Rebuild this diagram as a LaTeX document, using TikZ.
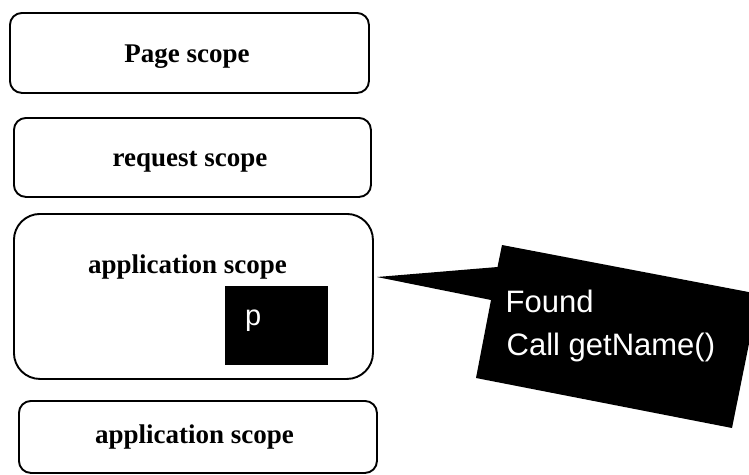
\documentclass[tikz,border=0pt]{standalone}
\usepackage{fontspec}
\setmainfont{Liberation Serif}
\setsansfont{Liberation Sans}
\begin{document}
\begin{tikzpicture}[x=1pt,y=-1pt,
  scopebox/.style={draw=black, line width=1.9pt, rounded corners=12pt, anchor=north west, inner sep=0pt},
  bigbox/.style={scopebox, rounded corners=26pt},
  lbl/.style={anchor=base, inner sep=0pt, font=\fontsize{27}{32}\selectfont\bfseries},
  objbox/.style={fill=black, draw=none, anchor=north west, inner sep=0pt},
  wtxt/.style={anchor=base west, inner sep=0pt, text=white, font=\sffamily\fontsize{31}{36}\selectfont},
  callout/.style={fill=black}]
\useasboundingbox (0,0) rectangle (749,474);
% scope boxes
\node[scopebox, minimum width=359pt, minimum height=80pt] (page) at (9,12) {};
\node[lbl] (pagetxt) at (187,62) {Page scope};
\node[scopebox, minimum width=357pt, minimum height=79pt] (request) at (13,117) {};
\node[lbl] (requesttxt) at (190,166) {request scope};
\node[bigbox, minimum width=359pt, minimum height=165pt] (app) at (13,213) {};
\node[lbl] (apptxt) at (187.5,273) {application scope};
\node[objbox, minimum width=103pt, minimum height=79pt] (pobj) at (225,286) {};
\node[wtxt, font=\sffamily\fontsize{29}{34}\selectfont] (ptxt) at (245,325) {p};
\node[scopebox, minimum width=358pt, minimum height=72pt] (app2) at (18,400) {};
\node[lbl] (app2txt) at (194.5,443) {application scope};
% callout
\coordinate (tip) at (377,277);
\fill[callout] (tip) -- (497.5,267) -- (502,245) -- (759,294) -- (732,428) -- (476,378) -- (491,300) -- cycle;
\node[wtxt] (found) at (505.5,312) {Found};
\node[wtxt] (call) at (506.5,355) {Call getName()};
\end{tikzpicture}
\end{document}
